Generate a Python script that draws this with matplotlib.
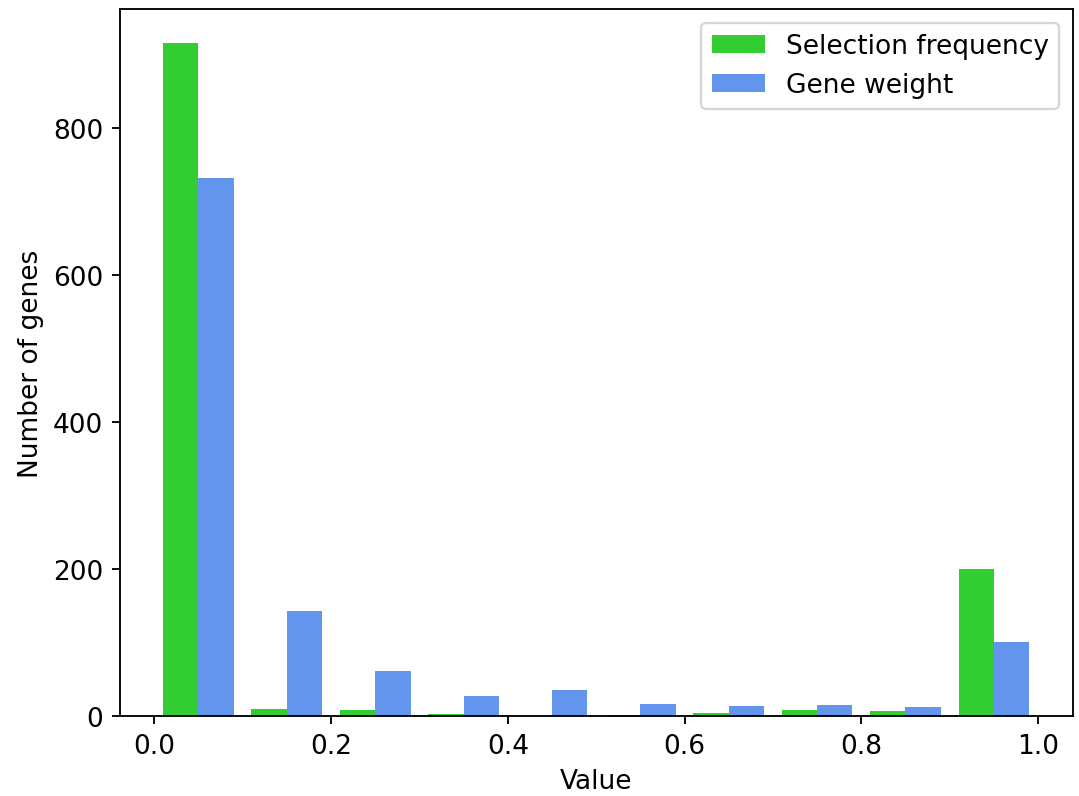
import numpy as np
import matplotlib
matplotlib.use("Agg")
import matplotlib.pyplot as plt

# histogram bins (10 bins from 0 to 1) and counts
bin_edges = np.linspace(0.0, 1.0, 11)
selection_frequency = [915, 10, 8, 3, 1, 2, 4, 8, 7, 200]
gene_weight = [731, 143, 62, 28, 36, 17, 14, 16, 13, 101]
labels = ["Selection frequency", "Gene weight"]
colors = ["limegreen", "cornflowerblue"]

centers = (bin_edges[:-1] + bin_edges[1:]) / 2

plt.rcParams["font.size"] = 11.3

fig, ax = plt.subplots(figsize=(1079 / 168, 797 / 168), dpi=168)
ax.hist([centers, centers], bins=bin_edges,
        weights=[selection_frequency, gene_weight],
        color=colors, label=labels)

ax.set_xlabel("Value")
ax.set_ylabel("Number of genes")
ax.legend(loc="upper right")

fig.subplots_adjust(left=0.111, right=0.994, top=0.987, bottom=0.100)
fig.savefig("out.png", dpi=168)
